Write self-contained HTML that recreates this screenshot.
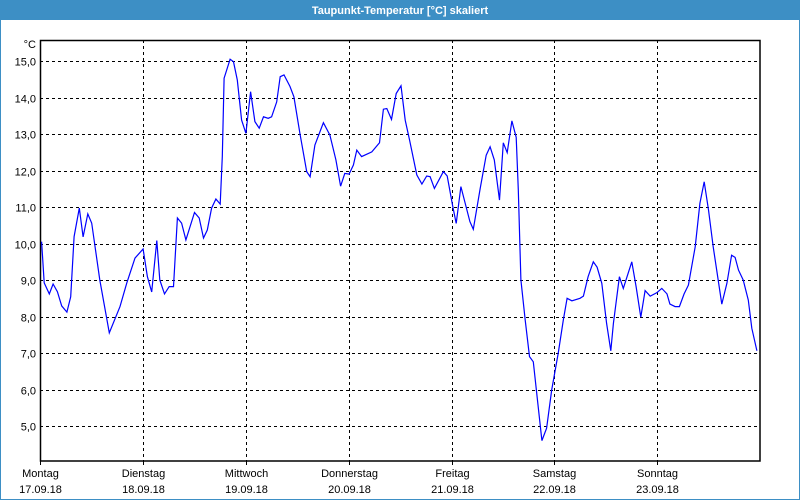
<!DOCTYPE html>
<html><head><meta charset="utf-8"><style>
html,body{margin:0;padding:0;background:#fff;}
svg{display:block;font-family:"Liberation Sans",sans-serif;}
</style></head><body>
<svg width="800" height="500" viewBox="0 0 800 500" id="chart">
<rect x="0.5" y="0.5" width="799" height="499" fill="#fff" stroke="#3d8fc5"/>
<rect x="0" y="0" width="800" height="20" fill="#3d8fc5"/>
<text x="400" y="14" text-anchor="middle" fill="#fff" font-size="11" font-weight="bold">Taupunkt-Temperatur [°C] skaliert</text>
<text x="36" y="48" text-anchor="end" font-size="11">°C</text>
<g id="grid"></g>
<g id="labels"></g>
<rect x="40.5" y="40.5" width="719.5" height="420.5" fill="none" stroke="#000" stroke-width="1.5"/>
<polyline id="series" fill="none" stroke="#0000ff" stroke-width="1.2"/>
</svg>
<script>
const yTicks = [15,14,13,12,11,10,9,8,7,6,5];
const dayNames = ["Montag","Dienstag","Mittwoch","Donnerstag","Freitag","Samstag","Sonntag"];
const dayDates = ["17.09.18","18.09.18","19.09.18","20.09.18","21.09.18","22.09.18","23.09.18"];
const hours = [0.3,0.9,2.1,3.0,4.0,5.0,6.2,7.1,7.9,9.1,10.0,11.1,12.0,13.9,16.1,18.6,20.2,22.1,24.0,25.0,26.0,27.2,27.9,29.0,30.1,31.1,32.0,33.0,34.0,36.0,37.1,38.1,39.0,40.0,41.0,42.0,42.5,42.9,44.3,45.1,46.0,47.0,48.0,49.1,50.1,51.1,52.1,53.2,54.0,55.2,56.0,56.9,58.3,59.2,60.6,62.2,63.0,64.1,66.1,67.6,69.0,70.1,71.1,72.1,73.1,73.9,75.0,77.4,79.2,80.1,80.9,82.0,83.1,84.2,85.2,86.2,87.9,89.1,90.2,91.0,92.0,94.1,95.0,96.3,97.1,98.2,100.3,101.1,102.7,104.1,105.0,106.0,107.2,108.1,109.0,110.1,111.1,111.6,112.2,113.2,114.2,115.1,115.9,117.1,118.2,119.4,120.9,122.1,123.0,124.1,126.0,126.8,127.9,129.1,130.0,131.1,132.2,133.2,133.8,135.2,136.1,138.1,139.1,140.2,141.2,142.4,143.9,145.1,146.3,147.0,148.2,149.2,150.3,151.3,152.9,154.0,155.0,156.0,157.1,159.1,160.3,161.4,162.2,163.0,164.1,165.3,166.1,167.3];
const temps = [10.05,8.92,8.62,8.89,8.68,8.29,8.12,8.54,10.19,10.97,10.18,10.81,10.56,9.0,7.55,8.27,8.92,9.6,9.85,9.09,8.67,10.08,9.0,8.62,8.82,8.82,10.7,10.56,10.1,10.85,10.7,10.15,10.37,10.97,11.22,11.08,12.38,14.53,15.05,14.98,14.48,13.38,13.02,14.16,13.34,13.16,13.47,13.43,13.47,13.88,14.57,14.62,14.3,14.02,13.02,11.97,11.83,12.7,13.31,12.97,12.29,11.57,11.92,11.9,12.15,12.56,12.38,12.51,12.76,13.68,13.7,13.4,14.11,14.32,13.38,12.84,11.88,11.63,11.85,11.83,11.51,11.97,11.85,11.01,10.55,11.56,10.6,10.39,11.51,12.42,12.65,12.29,11.19,12.76,12.49,13.36,12.91,11.47,9.0,7.9,6.9,6.76,5.9,4.6,4.94,5.99,6.99,7.9,8.5,8.43,8.5,8.56,9.09,9.5,9.35,8.91,7.81,7.06,7.81,9.09,8.77,9.5,8.82,7.98,8.71,8.56,8.65,8.77,8.62,8.34,8.27,8.27,8.62,8.86,9.91,11.1,11.69,10.92,9.91,8.34,8.91,9.68,9.62,9.27,9.0,8.45,7.68,7.06];

const X0 = 40.3, DAYW = 102.8, PLOT_R = 760, PLOT_T = 40, PLOT_B = 461;
function xScale(h){ return X0 + h * DAYW / 24; }
function yScale(v){ return 61 + (15 - v) * 36.5; }
const NS = "http://www.w3.org/2000/svg";
const grid = document.getElementById("grid");
const labels = document.getElementById("labels");

yTicks.forEach(v => {
  const y = Math.round(yScale(v)) + 0.5;
  const l = document.createElementNS(NS, "line");
  
  
  l.setAttribute("x1", 40); l.setAttribute("x2", PLOT_R);
  l.setAttribute("y1", y); l.setAttribute("y2", y);
  l.setAttribute("stroke", "#000"); l.setAttribute("stroke-dasharray", "3,3");
  grid.appendChild(l);
  const t = document.createElementNS(NS, "text");
  
  
  t.setAttribute("x", 36); t.setAttribute("y", y + 4);
  t.setAttribute("text-anchor", "end"); t.setAttribute("font-size", "11");
  t.textContent = v.toFixed(1).replace(".", ",");
  labels.appendChild(t);
});

dayNames.forEach((d, i) => {
  const x = Math.round(xScale(i * 24)) + 0.5;
  if (i > 0) {
    const l = document.createElementNS(NS, "line");
    
    
    l.setAttribute("x1", x); l.setAttribute("x2", x);
    l.setAttribute("y1", PLOT_T); l.setAttribute("y2", PLOT_B);
    l.setAttribute("stroke", "#000"); l.setAttribute("stroke-dasharray", "3,3");
    grid.appendChild(l);
  }
  const tk = document.createElementNS(NS, "line");
  
  
  tk.setAttribute("x1", x); tk.setAttribute("x2", x);
  tk.setAttribute("y1", PLOT_B); tk.setAttribute("y2", PLOT_B + 4);
  tk.setAttribute("stroke", "#000");
  grid.appendChild(tk);
  const t1 = document.createElementNS(NS, "text");
  
  
  t1.setAttribute("x", x); t1.setAttribute("y", 477);
  t1.setAttribute("text-anchor", "middle"); t1.setAttribute("font-size", "11");
  t1.textContent = d;
  labels.appendChild(t1);
  const t2 = document.createElementNS(NS, "text");
  
  
  t2.setAttribute("x", x); t2.setAttribute("y", 493);
  t2.setAttribute("text-anchor", "middle"); t2.setAttribute("font-size", "11");
  t2.textContent = dayDates[i];
  labels.appendChild(t2);
});

document.getElementById("series").setAttribute("points",
  hours.map((h, i) => xScale(h).toFixed(1) + "," + yScale(temps[i]).toFixed(1)).join(" "));
</script>
</body></html>
